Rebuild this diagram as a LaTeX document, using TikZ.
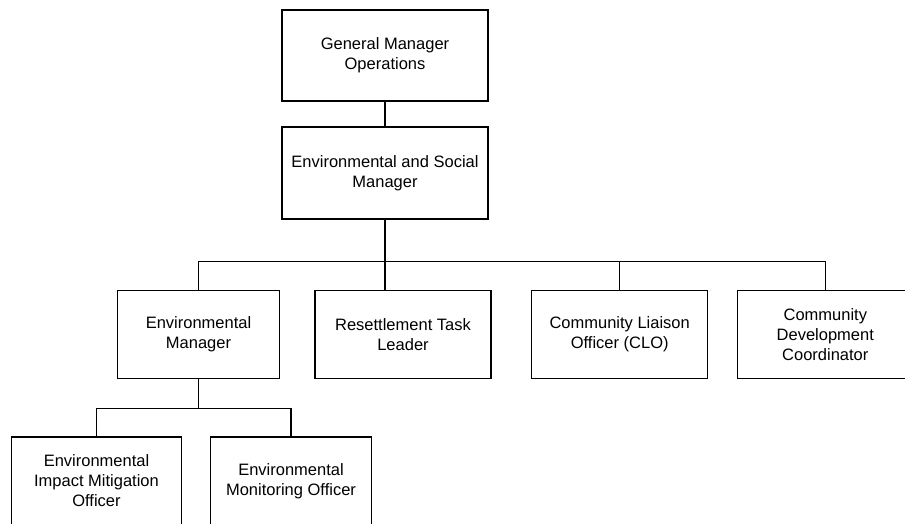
\documentclass[tikz,border=0pt]{standalone}
\usepackage{fontspec}
\setmainfont{Liberation Sans}
\begin{document}
\begin{tikzpicture}[x=1pt,y=-1pt,
  box/.style={draw=black, line width=1.1pt, fill=white, align=center, inner sep=0pt,
    font=\fontsize{16.5}{20}\selectfont, minimum height=88pt},
  link/.style={draw=black, line width=1.1pt}]
\useasboundingbox (0,0) rectangle (905,523);
\clip (0,0) rectangle (905,523);
\node[box, minimum width=206pt, minimum height=91pt] (gm) at (385,55.5) {General Manager\\Operations};
\node[box, minimum width=206pt, minimum height=92pt] (es) at (385,173) {Environmental and Social\\Manager};
\node[box, minimum width=162pt] (em) at (198.5,334.5) {Environmental\\Manager};
\node[box, minimum width=176pt] (rtl) at (403,334.5) {Resettlement Task\\Leader};
\node[box, minimum width=176pt] (clo) at (619.7,334.5) {Community Liaison\\Officer (CLO)};
\node[box, minimum width=176pt] (cdc) at (825.3,334.5) {Community\\Development\\Coordinator};
\node[box, minimum width=170pt] (eimo) at (96.5,481) {Environmental\\Impact Mitigation\\Officer};
\node[box, minimum width=161pt] (emo) at (291,481) {Environmental\\Monitoring Officer};
\coordinate (bus1) at (385,261.7);
\coordinate (bus2) at (198.5,408.3);
\draw[link] (gm.south) -- (es.north);
\draw[link] (es.south) -- (bus1);
\draw[link] (em.north) |- (bus1);
\draw[link] (cdc.north) |- (bus1);
\draw[link] (clo.north) -- (clo.north |- bus1);
\draw[link] (bus1) -- (bus1 |- rtl.north);
\draw[link] (em.south) -- (bus2);
\draw[link] (eimo.north) |- (bus2);
\draw[link] (emo.north) |- (bus2);
\end{tikzpicture}
\end{document}
